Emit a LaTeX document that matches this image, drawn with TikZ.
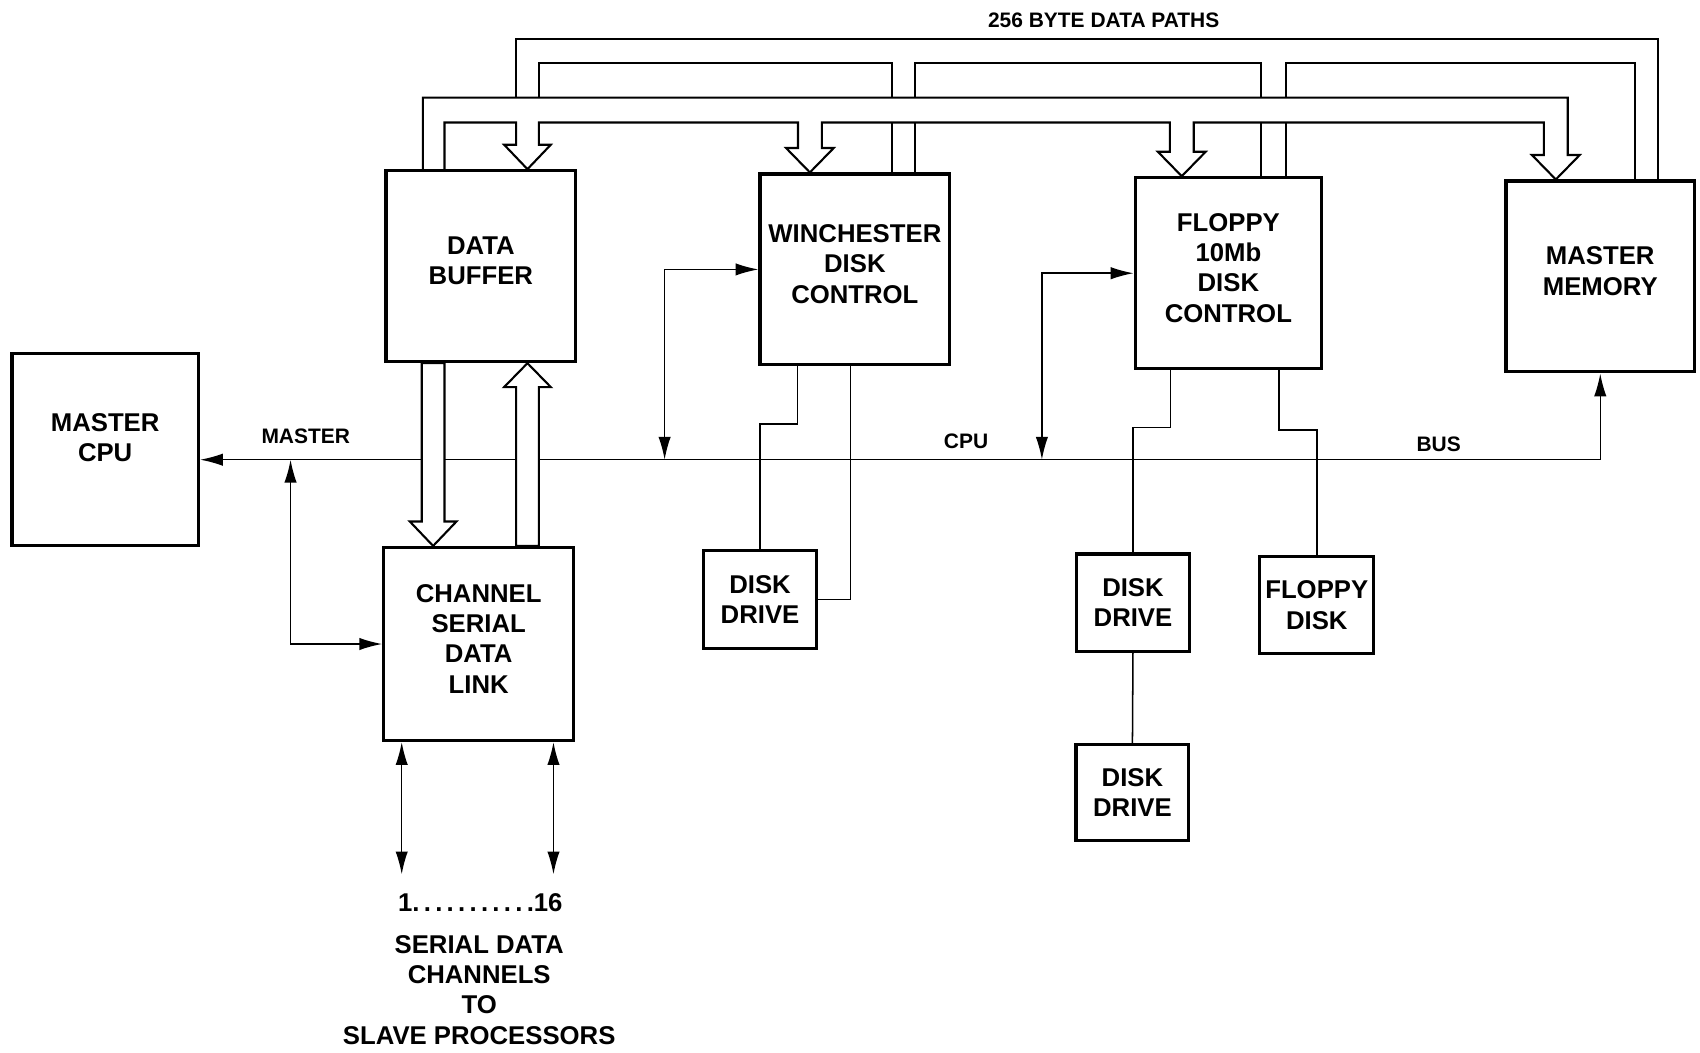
\documentclass[tikz,border=0pt]{standalone}
\usepackage{fontspec}
\setmainfont{Liberation Sans}
\usetikzlibrary{arrows.meta}

\begin{document}
\begin{tikzpicture}[x=0.02cm,y=-0.02cm,
	box/.style={draw,line width=1.7pt,align=center,inner sep=0pt,text depth=0.2cm,minimum width=3.5cm,minimum height=3.52cm,font=\bfseries\fontsize{13.5}{15.9}\selectfont},
	small box/.style={box,text depth=0pt,minimum width=2.08cm,minimum height=1.8cm},
	bus label/.style={font=\bfseries\fontsize{11}{13}\selectfont,inner sep=0pt},
	caption/.style={align=center,inner sep=0pt,font=\bfseries\fontsize{13.5}{15.9}\selectfont},
	wire/.style={line width=0.8pt},
	both ways/.style={wire,{Latex[length=12pt,width=6.5pt]}-{Latex[length=12pt,width=6.5pt]}},
	wide/.style={line width=1.1pt,line join=miter}]
	\useasboundingbox (0,0) rectangle (1568,971);

	\node[box,text depth=0.44cm,minimum width=3.44cm,minimum height=3.54cm] (cpu) at (97,414.5) {MASTER\\CPU};
	\node[box] (buffer) at (443.5,245.5) {DATA\\BUFFER};
	\node[box,minimum height=3.56cm] (channel) at (441.5,594) {CHANNEL\\SERIAL\\DATA\\LINK};
	\node[box] (winchester) at (788.5,248.5) {WINCHESTER\\DISK\\CONTROL};
	\node[box,minimum width=3.44cm] (floppy) at (1133,252) {FLOPPY\\10Mb\\DISK\\CONTROL};
	\node[box,minimum width=3.48cm] (memory) at (1476,255) {MASTER\\MEMORY};
	\node[small box] (drive) at (701,553) {DISK\\DRIVE};
	\node[small box] (drivemid) at (1045,556) {DISK\\DRIVE};
	\node[small box,minimum width=2.1cm] (floppydisk) at (1214.5,558) {FLOPPY\\DISK};
	\node[small box,minimum height=1.76cm] (drivelow) at (1044.5,731) {DISK\\DRIVE};

	\node[bus label] (paths) at (1018,19) {256 BYTE DATA PATHS};
	\node[bus label] (masterlabel) at (282,402) {MASTER};
	\node[bus label] (cpulabel) at (891,407) {CPU};
	\node[bus label] (buslabel) at (1327,410) {BUS};
	\node[caption] (count) at (443,833) {1.\,.\,.\,.\,.\,.\,.\,.\,.\,.\,.16};
	\node[caption] (slaves) at (442,913) {SERIAL DATA\\CHANNELS\\TO\\SLAVE PROCESSORS};

	\coordinate (busend) at (1476,424);
	\coordinate (tapchannel) at (268,424);
	\coordinate (tapwinchester) at (613,424);
	\coordinate (tapfloppy) at (961,424);
	\draw[both ways] (cpu.east |- busend) -- (busend) -- (memory.south);
	\draw[both ways] (tapchannel) |- (channel.west);
	\draw[both ways] (tapwinchester) |- (winchester.west);
	\draw[both ways] (tapfloppy) |- (floppy.west);

	\draw[wire] ([xshift=0.72cm]winchester.south west) -- ++(0,53) -| (drive.north);
	\draw[wire] ([xshift=1.7cm]winchester.south west) |- (drive.east);
	\draw[wire] ([xshift=0.68cm]floppy.south west) -- ++(0,53) -| (drivemid.north);
	\draw[wire] ([xshift=2.68cm]floppy.south west) -- ++(0,55) -| (floppydisk.north);
	\draw[wire] (drivemid.south) -- (drivelow.north);

	\draw[both ways] ([xshift=0.36cm]channel.south west) -- ++(0,122);
	\draw[both ways] ([xshift=3.16cm]channel.south west) -- ++(0,122);

	\draw[wide] (476,90) -- (476,36) -- (1529,36) -- (1529,0 |- memory.north);
	\draw[wide] (497,90) -- (497,58) -- (823,58) -- (823,90);
	\draw[wide] (844,90) -- (844,58) -- (1163,58) -- (1163,90);
	\draw[wide] (1186,90) -- (1186,58) -- (1508,58) -- (1508,0 |- memory.north);
	\draw[wide] (823,113) -- (823,0 |- winchester.north) (844,113) -- (844,0 |- winchester.north);
	\draw[wide] (1163,113) -- (1163,0 |- floppy.north) (1186,113) -- (1186,0 |- floppy.north);

	\draw[wide] (390,0 |- buffer.north) -- (390,90) -- (1446,90) -- (1446,143) -- (1457,143) -- (1435,0 |- memory.north) -- (1413,143) -- (1424,143) -- (1424,113)
		-- (1101,113) -- (1101,140) -- (1112,140) -- (1090,0 |- floppy.north) -- (1068,140) -- (1079,140) -- (1079,113)
		-- (758,113) -- (758,136.5) -- (769,136.5) -- (747,0 |- winchester.north) -- (725,136.5) -- (736,136.5) -- (736,113)
		-- (497,113) -- (497,133.5) -- (508,133.5) -- (486.5,0 |- buffer.north) -- (465,133.5) -- (476,133.5) -- (476,113)
		-- (410,113) -- (410,0 |- buffer.north);

	\draw[wide,fill=white] (389,0 |- buffer.south) -- (389,481) -- (378,481) -- (399.5,0 |- channel.north) -- (421,481) -- (410,481) -- (410,0 |- buffer.south) -- cycle;
	\draw[wide,fill=white] (476,0 |- channel.north) -- (476,357) -- (465,357) -- (486.5,0 |- buffer.south) -- (508,357) -- (497,357) -- (497,0 |- channel.north) -- cycle;
\end{tikzpicture}
\end{document}
